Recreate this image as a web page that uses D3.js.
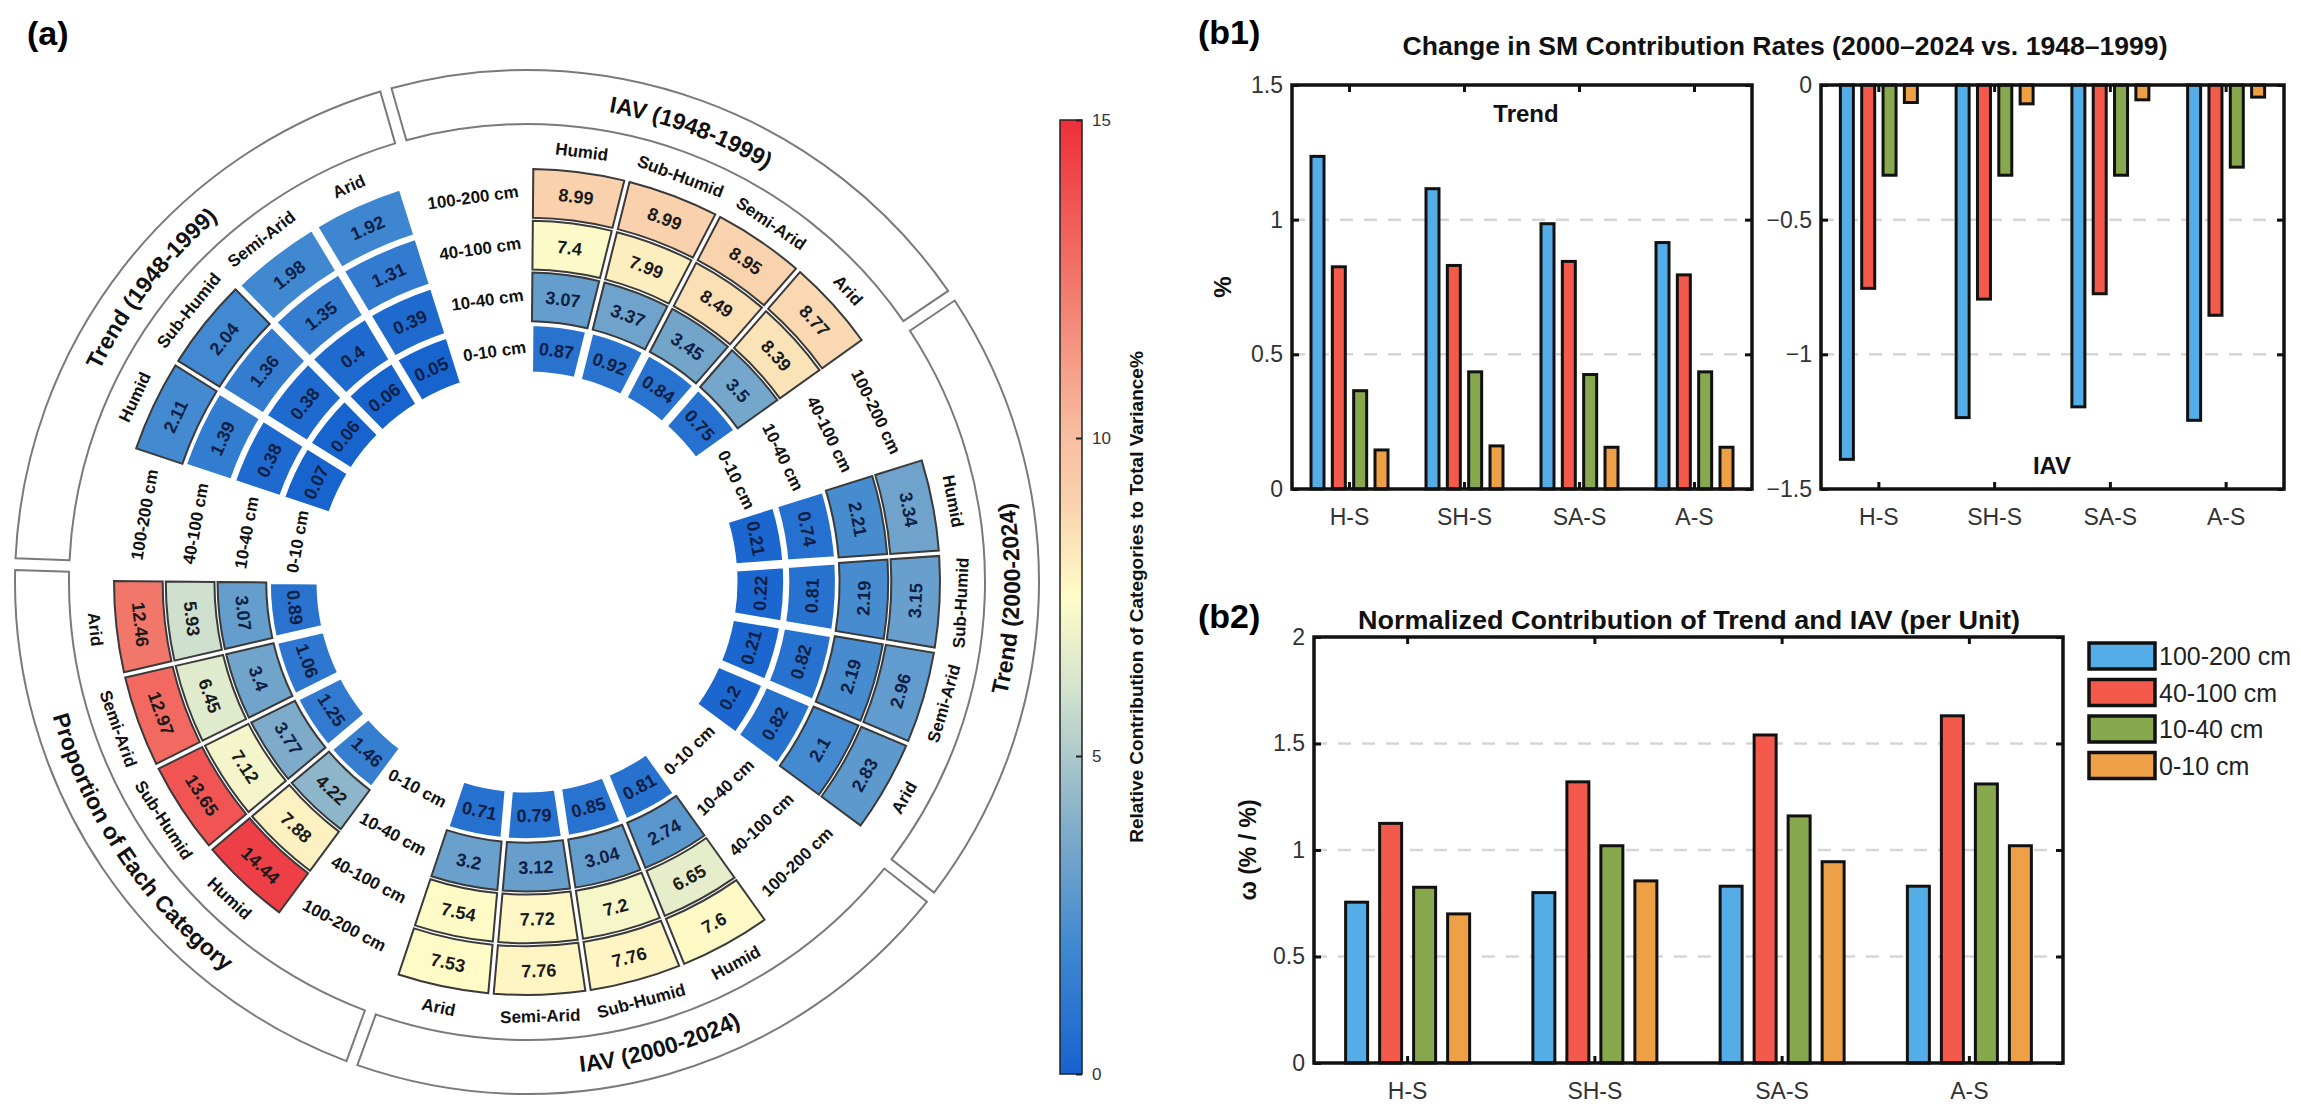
<!DOCTYPE html>
<html>
<head>
<meta charset="utf-8">
<script src="https://cdn.jsdelivr.net/npm/d3@7"></script>
<style>
  body { margin: 0; background: #fff; }
  text { font-family: "Liberation Sans", Arial, sans-serif; }
  .narrow { font-family: "Liberation Sans Narrow", "Arial Narrow", "Liberation Sans", sans-serif; }
</style>
</head>
<body>
<div class="svg"></div>
<script>
var svgWidth = 2301;
var svgHeight = 1112;

// ---- circular panel (a) data: [climate][depth], depth order 0-10 .. 100-200 ----
var climates = ["Humid", "Sub-Humid", "Semi-Arid", "Arid"];
var depths = ["0-10 cm", "10-40 cm", "40-100 cm", "100-200 cm"];
var sectorTitles = ["IAV (1948-1999)", "Trend (2000-2024)", "IAV (2000-2024)", "Proportion of Each Category", "Trend (1948-1999)"];

var iav1948 = [[0.87, 3.07, 7.4, 8.99], [0.92, 3.37, 7.99, 8.99], [0.84, 3.45, 8.49, 8.95], [0.75, 3.5, 8.39, 8.77]];
var trend2000 = [[0.21, 0.74, 2.21, 3.34], [0.22, 0.81, 2.19, 3.15], [0.21, 0.82, 2.19, 2.96], [0.2, 0.82, 2.1, 2.83]];
var iav2000 = [[0.81, 2.74, 6.65, 7.6], [0.85, 3.04, 7.2, 7.76], [0.79, 3.12, 7.72, 7.76], [0.71, 3.2, 7.54, 7.53]];
var proportion = [[1.46, 4.22, 7.88, 14.44], [1.25, 3.77, 7.12, 13.65], [1.06, 3.4, 6.45, 12.97], [0.89, 3.07, 5.93, 12.46]];
var trend1948 = [[0.07, 0.38, 1.39, 2.11], [0.06, 0.38, 1.36, 2.04], [0.06, 0.4, 1.35, 1.98], [0.05, 0.39, 1.31, 1.92]];
var sectorValues = [iav1948, trend2000, iav2000, proportion, trend1948];

// colour bar
var cbarTicks = [0, 5, 10, 15];
var cbarStops = [0, 2, 4, 6, 7.5, 9, 10, 12.5, 15];
var cbarColors = ["#1763cf", "#4088d0", "#86b0c9", "#d2e2ce", "#fffcc8", "#f9d2ad", "#f8bfa1", "#f2766a", "#ee2f3b"];

// ---- bar panels (b1), (b2): [group][layer] ----
var groups = ["H-S", "SH-S", "SA-S", "A-S"];
var layers = ["100-200 cm", "40-100 cm", "10-40 cm", "0-10 cm"];
var layerColors = ["#54ade6", "#f45a4c", "#88a84e", "#eea046"];
var trendChange = [[1.235, 0.825, 0.365, 0.145], [1.115, 0.83, 0.435, 0.16], [0.985, 0.845, 0.425, 0.155], [0.915, 0.795, 0.435, 0.155]];
var iavChange = [[-1.39, -0.755, -0.335, -0.065], [-1.235, -0.795, -0.335, -0.07], [-1.195, -0.775, -0.335, -0.055], [-1.245, -0.855, -0.305, -0.045]];
var omega = [[0.755, 1.125, 0.825, 0.7], [0.8, 1.32, 1.02, 0.855], [0.83, 1.54, 1.16, 0.945], [0.83, 1.63, 1.31, 1.02]];

var svg = d3.select(".svg")
  .append("svg")
  .attr("width", svgWidth)
  .attr("height", svgHeight);

// ================= (a) circular heat ring =================
var cx = 527, cy = 582;

function rad(deg) { return deg * Math.PI / 180; }
function pt(r, deg) { return [cx + r * Math.sin(rad(deg)), cy - r * Math.cos(rad(deg))]; }
function norm(deg) { return ((deg % 360) + 360) % 360; }
function upright(deg) {
  var a = norm(deg);
  return (a > 90 && a < 270) ? a - 180 : a;
}

var secStart = d3.scaleLinear().domain([0, 1]).range([-16, 56]);
var colBand = d3.scaleBand().domain(climates).range([16.5, 70.5]);
var ringBand = d3.scaleBand().domain(depths).range([209, 413]).paddingInner(0.06);
var color = d3.scaleLinear().domain(cbarStops).range(cbarColors).interpolate(d3.interpolateRgb);

var cells = [];
sectorValues.forEach(function(vals, k) {
  climates.forEach(function(c, j) {
    depths.forEach(function(d, i) {
      var a0 = secStart(k) + colBand(c);
      cells.push({
        v: vals[j][i],
        a0: a0, a1: a0 + colBand.bandwidth(),
        r0: ringBand(d), r1: ringBand(d) + ringBand.bandwidth()
      });
    });
  });
});

var cellArc = d3.arc()
  .innerRadius(function(d) { return d.r0; })
  .outerRadius(function(d) { return d.r1; })
  .startAngle(function(d) { return rad(d.a0); })
  .endAngle(function(d) { return rad(d.a1); })
  .padAngle(0.018)
  .padRadius(300);

var ring = svg.append("g");

ring.selectAll("path.cell")
  .data(cells)
  .enter()
  .append("path")
  .attr("class", "cell")
  .attr("transform", "translate(" + cx + "," + cy + ")")
  .attr("d", cellArc)
  .attr("fill", function(d) { return color(d.v); })
  .attr("stroke", function(d) { return d.v >= 2 ? "#3a3a3a" : "#fff"; })
  .attr("stroke-width", function(d) { return d.v >= 2 ? 2 : 3; });

ring.selectAll("text.val")
  .data(cells)
  .enter()
  .append("text")
  .attr("class", "val")
  .attr("transform", function(d) {
    var a = (d.a0 + d.a1) / 2, p = pt((d.r0 + d.r1) / 2, a);
    return "translate(" + p[0] + "," + p[1] + ") rotate(" + upright(a) + ")";
  })
  .attr("text-anchor", "middle")
  .attr("dy", "0.36em")
  .attr("font-size", 18)
  .attr("font-weight", "bold")
  .attr("fill", function(d) { return d.v < 4 ? "#0d1f45" : "#1a1a1a"; })
  .text(function(d) { return d.v; });

// climate labels outside each column
var climLabels = [];
sectorTitles.forEach(function(t, k) {
  climates.forEach(function(c) {
    climLabels.push({ text: c, a: secStart(k) + colBand(c) + colBand.bandwidth() / 2 });
  });
});
ring.selectAll("text.clim")
  .data(climLabels)
  .enter()
  .append("text")
  .attr("transform", function(d) {
    var p = pt(434, d.a);
    return "translate(" + p[0] + "," + p[1] + ") rotate(" + upright(d.a) + ")";
  })
  .attr("text-anchor", "middle")
  .attr("dy", "0.36em")
  .attr("font-size", 17)
  .attr("font-weight", "bold")
  .attr("fill", "#111")
  .text(function(d) { return d.text; });

// depth labels in the gap before each sector
var depthLabels = [];
sectorTitles.forEach(function(t, k) {
  depths.forEach(function(d) {
    depthLabels.push({ text: d, a: secStart(k) + 8, r: ringBand(d) + ringBand.bandwidth() / 2 });
  });
});
ring.selectAll("text.depth")
  .data(depthLabels)
  .enter()
  .append("text")
  .attr("transform", function(d) {
    var p = pt(d.r, d.a);
    return "translate(" + p[0] + "," + p[1] + ") rotate(" + upright(d.a) + ")";
  })
  .attr("text-anchor", "middle")
  .attr("dy", "0.36em")
  .attr("font-size", 17)
  .attr("font-weight", "bold")
  .attr("fill", "#111")
  .text(function(d) { return d.text; });

// outer frame boxes with titles
var frameArc = d3.arc()
  .innerRadius(458)
  .outerRadius(512)
  .padAngle(0.024)
  .padRadius(485);

ring.selectAll("path.frame")
  .data(sectorTitles)
  .enter()
  .append("path")
  .attr("transform", "translate(" + cx + "," + cy + ")")
  .attr("d", function(d, k) {
    return frameArc({ startAngle: rad(secStart(k)), endAngle: rad(secStart(k + 1)) });
  })
  .attr("fill", "none")
  .attr("stroke", "#7a7a7a")
  .attr("stroke-width", 2);

var defs = svg.append("defs");
sectorTitles.forEach(function(t, k) {
  var a0 = secStart(k), a1 = secStart(k + 1), mid = (a0 + a1) / 2;
  var flip = norm(mid) > 90 && norm(mid) < 270;
  var r = flip ? 493 : 477;
  var p0 = pt(r, a0), p1 = pt(r, a1);
  var dPath = flip
    ? "M" + p1[0] + "," + p1[1] + " A" + r + "," + r + " 0 0 0 " + p0[0] + "," + p0[1]
    : "M" + p0[0] + "," + p0[1] + " A" + r + "," + r + " 0 0 1 " + p1[0] + "," + p1[1];
  defs.append("path").attr("id", "tp" + k).attr("d", dPath);
  ring.append("text")
    .attr("font-size", 23)
    .attr("font-weight", "bold")
    .attr("fill", "#111")
    .append("textPath")
    .attr("href", "#tp" + k)
    .attr("startOffset", "50%")
    .attr("text-anchor", "middle")
    .text(t);
});

svg.append("text")
  .text("(a)")
  .attr("x", 27)
  .attr("y", 45)
  .attr("font-size", 34)
  .attr("font-weight", "bold");

// colour bar
var cbX = 1060, cbW = 22, cbTop = 120, cbBot = 1074;
var cbScale = d3.scaleLinear().domain([0, 15]).range([cbBot, cbTop]);
var grad = defs.append("linearGradient")
  .attr("id", "cbgrad")
  .attr("x1", 0).attr("y1", 1).attr("x2", 0).attr("y2", 0);
cbarStops.forEach(function(s, i) {
  grad.append("stop").attr("offset", s / 15).attr("stop-color", cbarColors[i]);
});
svg.append("rect")
  .attr("x", cbX).attr("y", cbTop)
  .attr("width", cbW).attr("height", cbBot - cbTop)
  .attr("fill", "url(#cbgrad)")
  .attr("stroke", "#222")
  .attr("stroke-width", 1.5);
var cbAxis = svg.append("g")
  .attr("transform", "translate(" + (cbX + cbW) + ",0)")
  .call(d3.axisRight(cbScale).tickValues(cbarTicks).tickSize(-6).tickPadding(10));
cbAxis.select(".domain").remove();
cbAxis.selectAll("line").attr("stroke", "#222").attr("stroke-width", 2);
cbAxis.selectAll("text").attr("class", "narrow").attr("font-size", 17).attr("fill", "#333");
svg.append("text")
  .text("Relative Contribution of Categories to Total Variance%")
  .attr("transform", "translate(1143," + ((cbTop + cbBot) / 2) + ") rotate(-90)")
  .attr("text-anchor", "middle")
  .attr("font-size", 19)
  .attr("font-weight", "bold")
  .attr("fill", "#111");

// ================= bar panels =================
function barPanel(o) {
  var g = svg.append("g");
  var x0 = d3.scaleBand().domain(groups).range([o.x, o.x + o.w]);
  var x1 = d3.scalePoint().domain(layers).range([-o.spread, o.spread]);
  var y = d3.scaleLinear().domain(o.domain).range([o.y + o.h, o.y]);

  // dashed grid
  g.selectAll("line.grid")
    .data(o.grid)
    .enter()
    .append("line")
    .attr("x1", o.x).attr("x2", o.x + o.w)
    .attr("y1", function(d) { return y(d); })
    .attr("y2", function(d) { return y(d); })
    .attr("stroke", "#d6d6d6")
    .attr("stroke-width", 2.5)
    .attr("stroke-dasharray", "13,11");

  var bars = [];
  o.data.forEach(function(row, gi) {
    row.forEach(function(v, li) {
      bars.push({ g: groups[gi], l: layers[li], li: li, v: v });
    });
  });
  g.selectAll("rect.bar")
    .data(bars)
    .enter()
    .append("rect")
    .attr("x", function(d) { return x0(d.g) + x0.bandwidth() / 2 + x1(d.l) - o.bw / 2; })
    .attr("y", function(d) { return Math.min(y(0), y(d.v)); })
    .attr("width", o.bw)
    .attr("height", function(d) { return Math.abs(y(d.v) - y(0)); })
    .attr("fill", function(d) { return layerColors[d.li]; })
    .attr("stroke", "#111")
    .attr("stroke-width", 3);

  var left = g.append("g").attr("transform", "translate(" + o.x + ",0)")
    .call(d3.axisLeft(y).tickValues(o.ticks).tickSize(-7).tickPadding(9).tickFormat(d3.format("~g")));
  var right = g.append("g").attr("transform", "translate(" + (o.x + o.w) + ",0)")
    .call(d3.axisRight(y).tickValues(o.ticks).tickSize(-7).tickFormat(""));
  var bottom = g.append("g").attr("transform", "translate(0," + (o.y + o.h) + ")")
    .call(d3.axisBottom(x0).tickSize(-7).tickPadding(20));
  var top = g.append("g").attr("transform", "translate(0," + o.y + ")")
    .call(d3.axisTop(x0).tickSize(-7).tickFormat(""));
  [left, right, bottom, top].forEach(function(ax) {
    ax.select(".domain").remove();
    ax.selectAll("line").attr("stroke", "#111").attr("stroke-width", 3);
    ax.selectAll("text").attr("class", "narrow").attr("font-size", 23).attr("fill", "#333");
  });
  bottom.selectAll("text").attr("dy", "0.71em");

  g.append("rect")
    .attr("x", o.x).attr("y", o.y)
    .attr("width", o.w).attr("height", o.h)
    .attr("fill", "none")
    .attr("stroke", "#111")
    .attr("stroke-width", 3.5);
  return g;
}

// (b1) trend
var b1t = barPanel({ x: 1292, y: 85, w: 460, h: 404, domain: [0, 1.5], ticks: [0, 0.5, 1, 1.5], grid: [0.5, 1],
  data: trendChange, spread: 32, bw: 13 });
b1t.append("text").text("Trend").attr("class", "narrow")
  .attr("x", 1526).attr("y", 122).attr("text-anchor", "middle")
  .attr("font-size", 24).attr("font-weight", "bold").attr("fill", "#111");

// (b1) IAV
var b1i = barPanel({ x: 1821, y: 85, w: 463, h: 404, domain: [-1.5, 0], ticks: [-1.5, -1, -0.5, 0], grid: [-1, -0.5],
  data: iavChange, spread: 32, bw: 13 });
b1i.append("text").text("IAV").attr("class", "narrow")
  .attr("x", 2052).attr("y", 474).attr("text-anchor", "middle")
  .attr("font-size", 24).attr("font-weight", "bold").attr("fill", "#111");

svg.append("text").text("(b1)")
  .attr("x", 1198).attr("y", 44)
  .attr("font-size", 34).attr("font-weight", "bold");
svg.append("text").text("Change in SM Contribution Rates (2000\u20132024 vs. 1948\u20131999)")
  .attr("class", "narrow")
  .attr("x", 1785).attr("y", 55).attr("text-anchor", "middle")
  .attr("textLength", 765).attr("lengthAdjust", "spacingAndGlyphs")
  .attr("font-size", 25).attr("font-weight", "bold").attr("fill", "#111");
svg.append("text").text("%")
  .attr("transform", "translate(1231,287) rotate(-90)")
  .attr("text-anchor", "middle")
  .attr("font-size", 24).attr("font-weight", "bold").attr("fill", "#111");

// (b2) normalized contribution
barPanel({ x: 1314, y: 637, w: 749, h: 426, domain: [0, 2], ticks: [0, 0.5, 1, 1.5, 2], grid: [0.5, 1, 1.5],
  data: omega, spread: 51, bw: 22 });

svg.append("text").text("(b2)")
  .attr("x", 1198).attr("y", 628)
  .attr("font-size", 34).attr("font-weight", "bold");
svg.append("text").text("Normalized Contribution of Trend and IAV (per Unit)")
  .attr("class", "narrow")
  .attr("x", 1689).attr("y", 629).attr("text-anchor", "middle")
  .attr("textLength", 662).attr("lengthAdjust", "spacingAndGlyphs")
  .attr("font-size", 25).attr("font-weight", "bold").attr("fill", "#111");
svg.append("text").text("\u03c9 (% / %)")
  .attr("transform", "translate(1256,850) rotate(-90)")
  .attr("text-anchor", "middle")
  .attr("font-size", 23).attr("font-weight", "bold").attr("fill", "#111");

// legend
var legend = svg.append("g").attr("transform", "translate(2089,643)");
var leg = legend.selectAll("g")
  .data(layers)
  .enter()
  .append("g")
  .attr("transform", function(d, i) { return "translate(0," + i * 36.5 + ")"; });
leg.append("rect")
  .attr("width", 66).attr("height", 26)
  .attr("fill", function(d, i) { return layerColors[i]; })
  .attr("stroke", "#111").attr("stroke-width", 3.5);
leg.append("text")
  .attr("class", "narrow")
  .attr("x", 70).attr("y", 13).attr("dy", "0.36em")
  .attr("font-size", 25).attr("fill", "#222")
  .text(function(d) { return d; });
</script>
</body>
</html>
